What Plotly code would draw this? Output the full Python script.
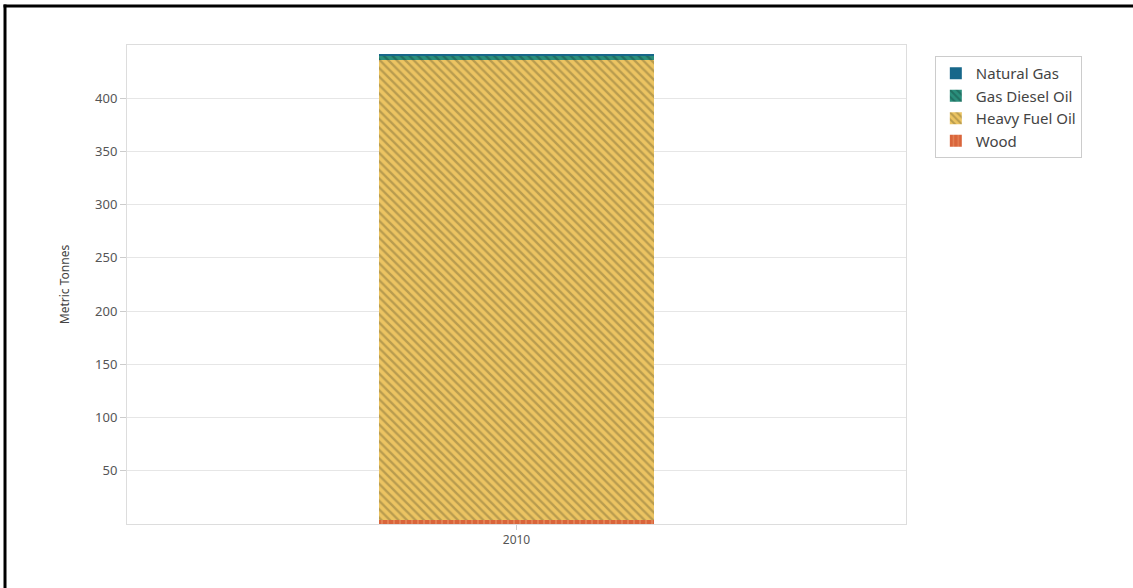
import plotly.graph_objects as go

# Fuel consumption by type, 2010 (metric tonnes)
years = ["2010"]
wood = [3.5]
heavy_fuel_oil = [432]
gas_diesel_oil = [4.5]
natural_gas = [1.5]

y_ticks = [50, 100, 150, 200, 250, 300, 350, 400]

fig = go.Figure()

series = [
    ("Wood", wood, dict(shape="|", bgcolor="#d9653b", fgcolor="#f0a070", size=6, solidity=0.3)),
    ("Heavy Fuel Oil", heavy_fuel_oil, dict(shape="\\", bgcolor="#ecc462", fgcolor="#85733a", size=6, solidity=0.4)),
    ("Gas Diesel Oil", gas_diesel_oil, dict(shape="\\", bgcolor="#2a8f7c", fgcolor="#174f47", size=6, solidity=0.4)),
    ("Natural Gas", natural_gas, dict(shape="", bgcolor="#17678a", fgcolor="#17678a")),
]

for name, vals, pat in series:
    fig.add_trace(go.Bar(
        x=years, y=vals, name=name, width=0.353,
        marker=dict(color=pat["bgcolor"], line=dict(width=0),
                    pattern=dict(shape=pat["shape"], fgcolor=pat["fgcolor"],
                                 bgcolor=pat["bgcolor"],
                                 size=pat.get("size", 8),
                                 solidity=pat.get("solidity", 0.3),
                                 fillmode="overlay")),
        hovertemplate=name + ": %{y}<extra></extra>",
    ))

# Black frame along the left and top edges
fig.add_shape(type="line", xref="paper", yref="paper",
              x0=-0.1566, x1=-0.1566, y0=-0.2, y1=1.0845,
              line=dict(color="#000000", width=3))
fig.add_shape(type="line", xref="paper", yref="paper",
              x0=-0.1585, x1=1.2914, y0=1.0814, y1=1.0814,
              line=dict(color="#000000", width=3))

fig.update_layout(
    width=1133, height=588,
    barmode="stack",
    paper_bgcolor="white", plot_bgcolor="white",
    margin=dict(l=127, r=227, t=45, b=64),
    font=dict(family="Noto Sans, Open Sans, sans-serif", size=12, color="#555555"),
    showlegend=True,
    legend=dict(x=1.037, y=0.977, xanchor="left", yanchor="top",
                traceorder="reversed", bordercolor="#cccccc", borderwidth=1,
                bgcolor="white", font=dict(size=15, color="#444444"),
                itemsizing="constant", tracegroupgap=0, itemwidth=30),
    xaxis=dict(range=[-0.5, 0.5], showgrid=False, showline=True, linecolor="#dddddd",
               mirror=True, ticks="outside", tickcolor="#cccccc", ticklen=5,
               tickfont=dict(size=12, color="#555555")),
    yaxis=dict(range=[0, 450], tickvals=y_ticks, showgrid=True, gridcolor="#e6e6e6",
               showline=True, linecolor="#dddddd", mirror=True,
               ticks="outside", tickcolor="#cccccc", ticklen=6,
               tickfont=dict(size=13, color="#555555"),
               title=dict(text="Metric Tonnes", font=dict(size=12, color="#444444"), standoff=22),
               zeroline=False),
)

fig.write_html("out.html")
